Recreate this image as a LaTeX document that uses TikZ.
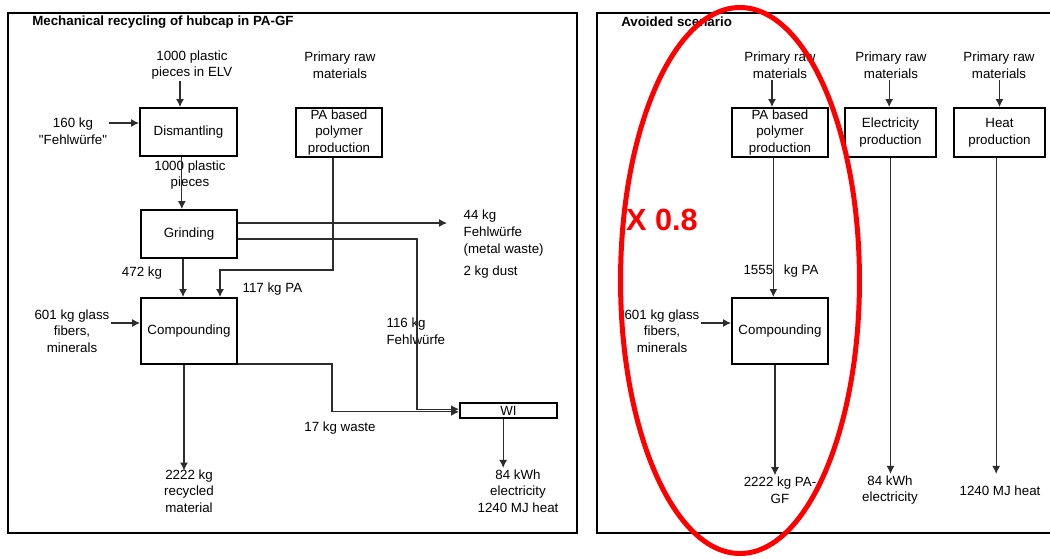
\documentclass[tikz,border=0pt]{standalone}
\usepackage{fontspec}
\setmainfont{Liberation Sans}[Ligatures=TeXOff]
\usetikzlibrary{arrows.meta,positioning}

\begin{document}
\begin{tikzpicture}[
    x=0.75pt, y=-0.75pt,
    font=\fontsize{10pt}{12.5pt}\selectfont,
    >={Latex[length=6pt,width=6pt]},
    proc/.style={
        draw,
        line width=1.5pt,
        align=center,
        inner sep=0pt,
        minimum height=36pt
    },
    lbl/.style={
        align=center,
        inner sep=1pt
    },
    heading/.style={
        anchor=west,
        inner sep=0pt,
        font=\fontsize{10pt}{12pt}\selectfont\bfseries
    },
    flow/.style={
        ->,
        draw=flowgray,
        line width=0.8pt
    },
    panel/.style={
        draw,
        line width=2pt
    }
]

\definecolor{flowgray}{RGB}{45,45,45}
\definecolor{markred}{RGB}{255,0,0}

\fill[white, use as bounding box] (0,0) rectangle (1050,558);

\draw[panel] (8,13) rectangle (577,533);
\draw[panel] (597,13) rectangle (1064,533);

\node[heading] (title1) at (32,22) {Mechanical recycling of hubcap in PA-GF};
\node[heading] (title2) at (621,22) {Avoided scenario};

% recycling route
\node[proc, minimum width=72.75pt] (dism) at (188.5,132) {Dismantling};
\node[proc, minimum width=72pt] (grind) at (189,234) {Grinding};
\node[proc, minimum width=72pt, minimum height=49.5pt] (comp) at (189,331) {Compounding};
\node[proc, minimum width=64.5pt, minimum height=36.75pt] (papoly) at (339,132.5) {PA based\\polymer\\production};
\node[proc, minimum width=72.75pt, minimum height=11.25pt] (wi) at (508.5,410.5) {WI};

\node[lbl] (elv) at (192,65) {1000 plastic\\pieces in ELV};
\node[lbl] (praw1) at (340,65) {Primary raw\\materials};
\node[lbl] (fw160) at (73,131) {160 kg\\"Fehlwürfe"};
\node[lbl] (pieces) at (190,175) {1000 plastic\\pieces};
\node[lbl] (kg472) at (142,273) {472 kg};
\node[lbl, anchor=west] (pa117) at (241,289) {117 kg PA};
\node[lbl] (glass1) at (72,331) {601 kg glass\\fibers,\\minerals};
\node[lbl, anchor=west, align=left] (fw44) at (462,233) {44 kg\\Fehlwürfe\\(metal waste)};
\node[lbl, anchor=west] (dust) at (462,272) {2 kg dust};
\node[lbl, anchor=west, align=left] (fw116) at (385,331) {116 kg\\Fehlwürfe};
\node[lbl] (waste17) at (340,428) {17 kg waste};
\node[lbl] (recyc) at (189,491) {2222 kg\\recycled\\material};
\node[lbl] (energy) at (518,491) {84 kWh\\electricity\\1240 MJ heat};

\coordinate (pabend) at (220,270);
\coordinate (fwend) at (447,223);
\coordinate (fwbend) at (417,239);
\coordinate (wastebend) at (332,364);

\draw[flow] ([xshift=-9pt]elv.south) -- ([xshift=-9pt]elv.south |- dism.north);
\draw[flow] ([yshift=6pt]fw160.east) -- ([yshift=6pt]fw160.east -| dism.west);
\draw[flow] ([xshift=-5pt]dism.south) -- ([xshift=-5pt]dism.south |- grind.north);
\draw[flow] ([xshift=-4.5pt]grind.south) -- ([xshift=-4.5pt]grind.south |- comp.north);
\draw[flow] ([xshift=-4.5pt]papoly.south) |- (pabend) -- (pabend |- comp.north);
\draw[flow] ([yshift=6pt]glass1.east) -- ([yshift=6pt]glass1.east -| comp.west);
\draw[flow] (grind.east |- fwend) -- (fwend);
\draw[flow] (grind.east |- fwbend) -- (fwbend) |- ([yshift=1pt]wi.west);
\draw[flow] (comp.east |- wastebend) -- (wastebend) |- ([yshift=-1pt]wi.west);
\draw[flow] ([xshift=-3.75pt]comp.south) -- ([xshift=-3.75pt, yshift=-2pt]comp.south |- recyc.north);
\draw[flow] ([xshift=-4pt]wi.south) -- ([xshift=-4pt]wi.south |- energy.north);

% avoided route
\node[proc, minimum width=72pt, minimum height=36.75pt] (rpa) at (780,132.5) {PA based\\polymer\\production};
\node[proc, minimum width=68.25pt, minimum height=36.75pt] (relec) at (890.5,132.5) {Electricity\\production};
\node[proc, minimum width=68.25pt, minimum height=36.75pt] (rheat) at (999.5,132.5) {Heat\\production};
\node[proc, minimum width=72pt, minimum height=49.5pt] (rcomp) at (780,331) {Compounding};

\node[lbl] (praw2) at (780,65) {Primary raw\\materials};
\node[lbl] (praw3) at (891,65) {Primary raw\\materials};
\node[lbl] (praw4) at (999,65) {Primary raw\\materials};
\node[lbl] (kgpa) at (781,271) {1555\hspace{8pt}kg PA};
\node[lbl] (glass2) at (662,331) {601 kg glass\\fibers,\\minerals};
\node[lbl] (papf) at (780,490) {2222 kg PA-\\GF};
\node[lbl] (kwh2) at (890,490) {84 kWh\\electricity};
\node[lbl] (heat2) at (1000,491) {1240 MJ heat};

\draw[flow] ([xshift=-6pt]rpa.north |- praw2.south) -- ([xshift=-6pt]rpa.north);
\draw[flow] ([xshift=-1pt]relec.north |- praw3.south) -- ([xshift=-1pt]relec.north);
\draw[flow] (rheat.north |- praw4.south) -- (rheat.north);
\draw[flow] ([xshift=-5pt]rpa.south) -- ([xshift=-5pt]rpa.south |- rcomp.north);
\draw[flow] ([yshift=6pt]glass2.east) -- ([yshift=6pt]glass2.east -| rcomp.west);
\draw[flow] ([xshift=-3.75pt]rcomp.south) -- ([xshift=-3.75pt]rcomp.south |- papf.north);
\draw[flow] (relec.south) -- (relec.south |- kwh2.north);
\draw[flow] ([xshift=-2.5pt]rheat.south) -- ([xshift=-2.5pt, yshift=8pt]rheat.south |- heat2.north);

\node[text=markred, font=\fontsize{23pt}{23pt}\selectfont\bfseries] (factor) at (662,220) {X 0.8};
\draw[draw=markred, line width=3.75pt] (740,280.5) ellipse [x radius=89.6pt, y radius=204.75pt];

\end{tikzpicture}
\end{document}
